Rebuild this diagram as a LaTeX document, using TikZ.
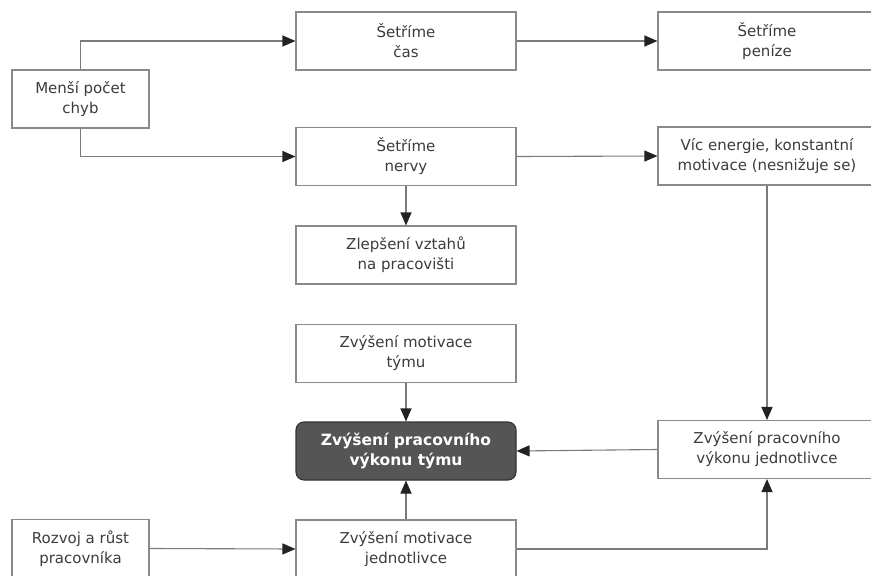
\documentclass[tikz,border=0pt]{standalone}
\usepackage{fontspec}
\setmainfont{DejaVu Sans}
\usetikzlibrary{arrows.meta}
\definecolor{boxgray}{HTML}{8A8A8A}
\definecolor{linegray}{HTML}{7A7A7A}
\definecolor{textgray}{HTML}{3C3C3C}
\definecolor{tipc}{HTML}{222222}
\definecolor{darkfill}{HTML}{555555}
\definecolor{darkline}{HTML}{333333}
\begin{document}
\begin{tikzpicture}[x=1pt,y=-1pt,
  box/.style={draw=boxgray, line width=1.1pt, fill=white, minimum width=220pt, minimum height=58pt,
    align=center, text=textgray, font=\fontsize{15}{20}\selectfont, inner sep=0pt},
  smallbox/.style={box, minimum width=137pt},
  widebox/.style={box, minimum width=218pt},
  mainbox/.style={box, draw=darkline, fill=darkfill, text=white, rounded corners=8pt,
    font=\fontsize{15.5}{20}\selectfont\bfseries},
  conn/.style={draw=linegray, line width=1.1pt, -{Triangle[length=13pt,width=11pt,color=tipc]}}]
\path[use as bounding box, clip] (0,0) rectangle (871,576);
\fill[white] (0,0) rectangle (871,576);

\node[smallbox] (mensi) at (80.5,99) {Menší počet\\chyb};
\node[box] (cas) at (406,41) {Šetříme\\čas};
\node[widebox] (penize) at (767,41) {Šetříme\\peníze};
\node[box] (nervy) at (406,156.5) {Šetříme\\nervy};
\node[widebox] (vic) at (767,156) {Víc energie, konstantní\\motivace (nesnižuje se)};
\node[box] (vztahy) at (406,255) {Zlepšení vztahů\\na pracovišti};
\node[box] (motym) at (406,353.5) {Zvýšení motivace\\týmu};
\node[mainbox] (vykontym) at (406,451) {Zvýšení pracovního\\výkonu týmu};
\node[widebox] (vykonj) at (767,449.5) {Zvýšení pracovního\\výkonu jednotlivce};
\node[smallbox] (rozvoj) at (80.5,548.5) {Rozvoj a růst\\pracovníka};
\node[box] (motj) at (406,549) {Zvýšení motivace\\jednotlivce};

\draw[conn] (mensi.north) |- (cas.west);
\draw[conn] (mensi.south) |- (nervy.west);
\draw[conn] (cas.east) -- (penize.west);
\draw[conn] (nervy.east) -- (vic.west);
\draw[conn] (nervy.south) -- (vztahy.north);
\draw[conn] (vic.south) -- (vykonj.north);
\draw[conn] (motym.south) -- (vykontym.north);
\draw[conn] (vykonj.west) -- (vykontym.east);
\draw[conn] (motj.north) -- (vykontym.south);
\draw[conn] (rozvoj.east) -- (motj.west);
\draw[conn] (motj.east) -| (vykonj.south);
\end{tikzpicture}
\end{document}
